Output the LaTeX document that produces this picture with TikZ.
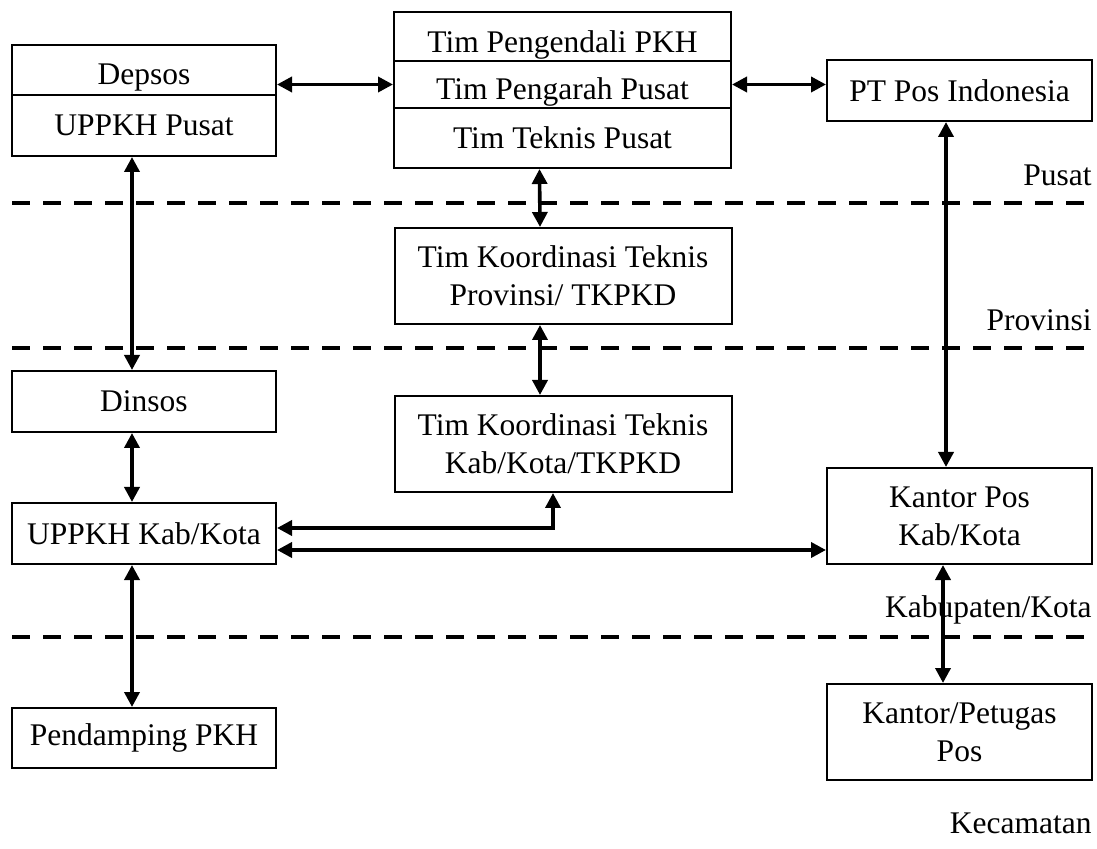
\documentclass[tikz,border=0pt]{standalone}
\usepackage{fontspec}
\setmainfont{Liberation Serif}
\usepackage{tikz}
\usetikzlibrary{arrows.meta,calc}

\tikzset{
    unit/.style={draw, line width=1pt, inner sep=0pt, align=center, font=\fontsize{15.75}{19}\selectfont},
    leftunit/.style={unit, minimum width=132pt},
    midunit/.style={unit, minimum width=168.5pt},
    rightunit/.style={unit, minimum width=132.5pt},
    sunk/.style={text depth=0pt, text height=#1},
    link/.style={line width=1.8pt, {Triangle[length=7.5pt,width=7.5pt]}-{Triangle[length=7.5pt,width=7.5pt]}},
    level/.style={anchor=base east, inner sep=0pt, font=\fontsize{15.75}{19}\selectfont},
    divider/.style={line width=2pt, dash pattern=on 9pt off 6.5pt}
}

\begin{document}
\begin{tikzpicture}[x=0.5pt, y=-0.5pt]

    \useasboundingbox (0,0) rectangle (1097,849);

        % Level separators
        \foreach \y in {203, 348, 637} {
            \draw[divider] (12,\y) -- (1097,\y);
        }

        % Level names
        \node[level] (lblpusat) at (1092,186) {Pusat};
        \node[level] (lblprov) at (1092,331) {Provinsi};
        \node[level] (lblkab) at (1092,617) {Kabupaten/Kota};
        \node[level] (lblkec) at (1092,833) {Kecamatan};

        % Left column
        \node[leftunit, sunk=15pt, minimum height=25pt] (depsos) at (144,70) {Depsos};
        \node[leftunit, minimum height=30.5pt] (uppkhpusat) at (144,125.5) {UPPKH Pusat};
        \node[leftunit, minimum height=30.5pt] (dinsos) at (144,401.5) {Dinsos};
        \node[leftunit, minimum height=30.5pt] (uppkhkab) at (144,533.5) {UPPKH Kab/Kota};
        \node[leftunit, minimum height=30pt] (pendamping) at (144,738) {Pendamping PKH};

        % Middle column
        \node[midunit, sunk=16.5pt, minimum height=24.5pt] (pengendali) at (562.5,36.5) {Tim Pengendali PKH};
        \node[midunit, sunk=15.5pt, minimum height=23.5pt] (pengarah) at (562.5,84.5) {Tim Pengarah Pusat};
        \node[midunit, minimum height=30pt] (teknispusat) at (562.5,138) {Tim Teknis Pusat};
        \node[midunit, minimum height=48pt] (tkprov) at (563,276) {Tim Koordinasi Teknis\\Provinsi/ TKPKD};
        \node[midunit, minimum height=48pt] (tkkab) at (563,444) {Tim Koordinasi Teknis\\Kab/Kota/TKPKD};

        % Right column
        \node[rightunit, minimum height=30.5pt] (ptpos) at (959.5,90.5) {PT Pos Indonesia};
        \node[rightunit, minimum height=48pt] (kantorpos) at (959.5,516) {Kantor Pos\\Kab/Kota};
        \node[rightunit, minimum height=48pt] (petugaspos) at (959.5,732) {Kantor/Petugas\\Pos};

        % Links
        \draw[link] (depsos.east |- pengarah.west) -- (pengarah.west);
        \draw[link] (pengarah.east) -- (pengarah.east -| ptpos.west);
        \draw[link] ([xshift=-6pt]uppkhpusat.south) -- ([xshift=-6pt]dinsos.north);
        \draw[link] ([xshift=-6pt]dinsos.south) -- ([xshift=-6pt]uppkhkab.north);
        \draw[link] ([xshift=-6pt]uppkhkab.south) -- ([xshift=-6pt]pendamping.north);
        \draw[link] ([xshift=-11.5pt]teknispusat.south) -- ([xshift=-11.5pt]tkprov.north);
        \draw[link] ([xshift=-11.5pt]tkprov.south) -- ([xshift=-11.5pt]tkkab.north);
        \draw[link] ([yshift=2.75pt]uppkhkab.east) -| ([xshift=-5pt]tkkab.south);
        \draw[link] ([yshift=-8.25pt]uppkhkab.east) -- ([yshift=-8.25pt]uppkhkab.east -| kantorpos.west);
        \draw[link] ([xshift=-6.75pt]ptpos.south) -- ([xshift=-6.75pt]kantorpos.north);
        \draw[link] ([xshift=-8.25pt]kantorpos.south) -- ([xshift=-8.25pt]petugaspos.north);

\end{tikzpicture}
\end{document}
